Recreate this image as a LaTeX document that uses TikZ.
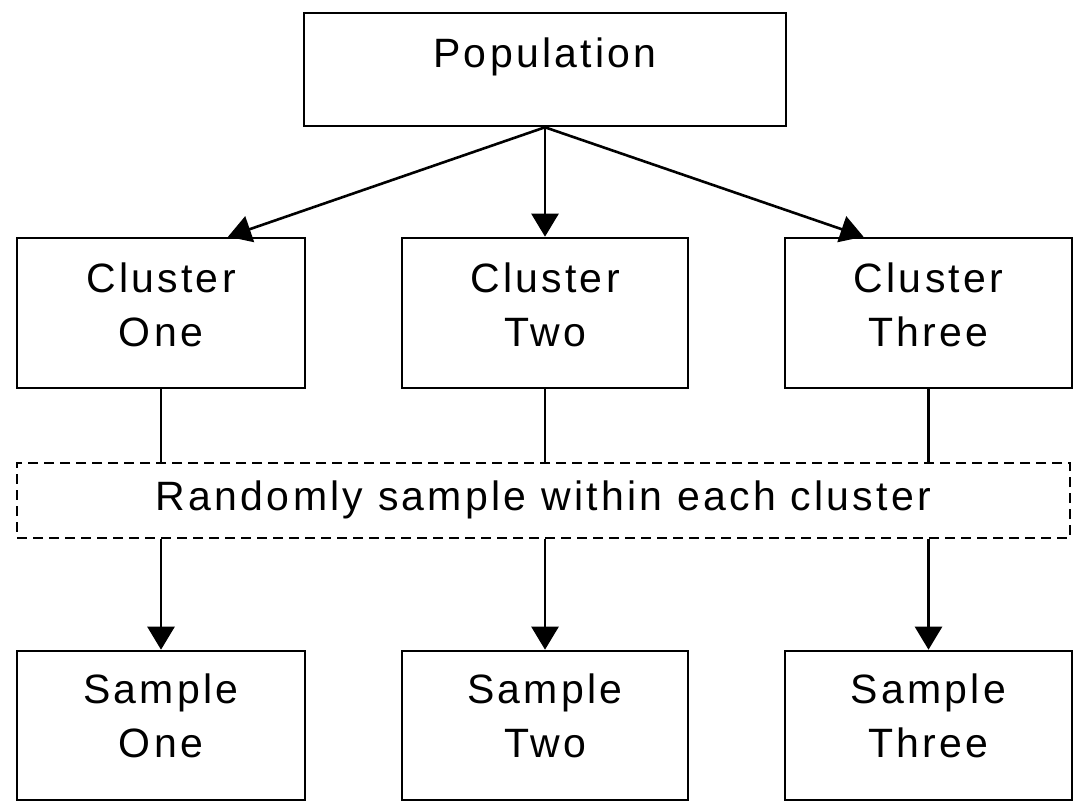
\documentclass[tikz,border=0pt]{standalone}
\usepackage{fontspec}
\setmainfont[LetterSpace=8]{Liberation Sans}
\usetikzlibrary{arrows.meta,calc}
\tikzset{
  box/.style={draw=black, line width=2.6pt, rectangle, inner sep=0pt, align=center,
    font=\fontsize{41}{54}\selectfont},
  dashbox/.style={box, dash pattern=on 10pt off 6pt, line width=2.2pt},
  conn/.style={line width=2.6pt, draw=black},
  arr/.style={conn, -{Triangle[width=27pt,length=23pt]}},
  lbl/.style={inner sep=0pt, align=center, font=\fontsize{41}{54}\selectfont}
}
\begin{document}
\begin{tikzpicture}[x=1pt,y=-1pt]
\useasboundingbox (0,0) rectangle (1073,802);
% boxes
\node[box, minimum width=482pt, minimum height=113pt] (pop) at (545,69.5) {};
\node[lbl] (popt) at (545,57) {Population};

\node[box, minimum width=288pt, minimum height=150pt] (c1) at (161,313) {};
\node[box, minimum width=286pt, minimum height=150pt] (c2) at (545,313) {};
\node[box, minimum width=287pt, minimum height=150pt] (c3) at (928.5,313) {};
\node[lbl] (c1t) at (161,305) {Cluster\\One};
\node[lbl] (c2t) at (545,305) {Cluster\\Two};
\node[lbl] (c3t) at (928.5,305) {Cluster\\Three};

\node[dashbox, minimum width=1053pt, minimum height=75pt] (rs) at (543.5,500.5) {};
\node[lbl] (rst) at (543.5,500) {Randomly sample within each cluster};

\node[box, minimum width=288pt, minimum height=149pt] (s1) at (161,725.5) {};
\node[box, minimum width=286pt, minimum height=149pt] (s2) at (545,725.5) {};
\node[box, minimum width=287pt, minimum height=149pt] (s3) at (928.5,725.5) {};
\node[lbl] (s1t) at (161,716) {Sample\\One};
\node[lbl] (s2t) at (545,716) {Sample\\Two};
\node[lbl] (s3t) at (928.5,716) {Sample\\Three};

% connectors
\draw[arr] (pop.south) -- ($(c1.north)+(67,0)$);
\draw[arr] (pop.south) -- (c2.north);
\draw[arr] (pop.south) -- ($(c3.north)+(-65,0)$);

\draw[conn] (c1.south) -- (c1.south |- rs.north);
\draw[conn] (c2.south) -- (c2.south |- rs.north);
\draw[conn] (c3.south) -- (c3.south |- rs.north);

\draw[arr] (s1.north |- rs.south) -- (s1.north);
\draw[arr] (s2.north |- rs.south) -- (s2.north);
\draw[arr] (s3.north |- rs.south) -- (s3.north);
\end{tikzpicture}
\end{document}
